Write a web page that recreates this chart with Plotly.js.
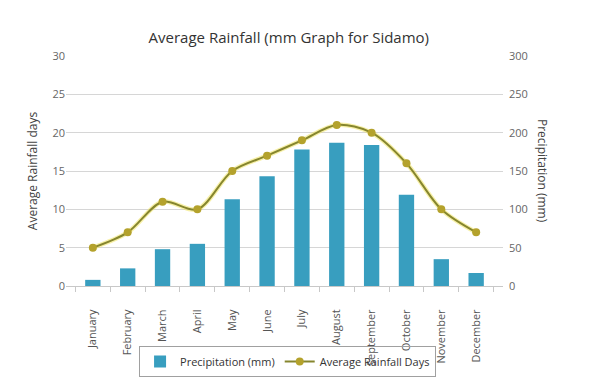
<!DOCTYPE html>
<html>
<head>
<meta charset="utf-8">
<script src="https://cdn.plot.ly/plotly-3.0.1.min.js"></script>
<style>html,body{margin:0;padding:0;background:#fff;}#chart{width:593px;height:388px;}</style>
</head>
<body>
<div id="chart"></div>
<script>
const months = ["January","February","March","April","May","June","July","August","September","October","November","December"];
const precipitationMm = [8, 23, 48, 55, 113, 143, 178, 187, 184, 119, 35, 17];
const rainfallDays = [5, 7, 11, 10, 15, 17, 19, 21, 20, 16, 10, 7];

const font = "Open Sans, DejaVu Sans, sans-serif";

const traces = [
  {
    type: "bar", name: "Precipitation (mm)", x: months, y: precipitationMm,
    yaxis: "y2", marker: {color: "#389ebf"}, hoverinfo: "x+y"
  },
  {
    type: "scatter", mode: "lines", x: months, y: rainfallDays, yaxis: "y",
    line: {shape: "spline", smoothing: 0.9, color: "rgba(240,225,80,0.5)", width: 4.5},
    showlegend: false, hoverinfo: "skip"
  },
  {
    type: "scatter", mode: "lines+markers", name: "Average Rainfall Days", x: months, y: rainfallDays,
    yaxis: "y",
    line: {shape: "spline", smoothing: 0.9, color: "#86862e", width: 2},
    marker: {color: "#b4a22c", size: 8}
  }
];

const layout = {
  width: 593, height: 388,
  margin: {l: 66, r: 90, t: 56, b: 101},
  paper_bgcolor: "#fff", plot_bgcolor: "#fff",
  font: {family: font, color: "#666", size: 11},
  title: {text: "Average Rainfall (mm Graph for Sidamo)", x: 0.487, xanchor: "center", y: 0.902, yanchor: "middle",
          font: {family: font, size: 15, color: "#333"}},
  bargap: 0.56,
  xaxis: {
    type: "category", tickangle: -90, tickfont: {size: 11, color: "#555"},
    showgrid: false, showline: true, linecolor: "#c8c8c8", linewidth: 1,
    ticks: "outside", tickson: "boundaries", ticklen: 5, tickcolor: "#c8c8c8",
    ticklabelstandoff: 18, fixedrange: true
  },
  yaxis: {
    range: [0, 30], dtick: 5, tick0: 0,
    showgrid: true, gridcolor: "#d6d6d6", gridwidth: 1, zeroline: false,
    tickfont: {size: 11, color: "#666"}, ticks: "", 
    title: {text: "Average Rainfall days", font: {size: 12, color: "#444"}, standoff: 12}
  },
  yaxis2: {
    range: [0, 300], dtick: 50, tick0: 0, overlaying: "y", side: "right",
    showgrid: false, zeroline: false, tickfont: {size: 11, color: "#666"},
    ticklabelstandoff: 5
  },
  annotations: [
    {text: "Precipitation (mm)", xref: "paper", yref: "paper", x: 1.0, xshift: 40, y: 0.5,
     xanchor: "center", yanchor: "middle", textangle: 90, showarrow: false,
     font: {size: 12, color: "#444", family: font}}
  ],
  legend: {
    orientation: "h", x: 0.507, xanchor: "center", y: -0.3225, yanchor: "middle",
    bordercolor: "#a0a0a0", borderwidth: 1, bgcolor: "rgba(0,0,0,0)",
    font: {size: 11, color: "#333"}, traceorder: "normal", itemwidth: 30
  }
};

Plotly.newPlot("chart", traces, layout, {displayModeBar: false, staticPlot: true});
</script>
</body>
</html>
